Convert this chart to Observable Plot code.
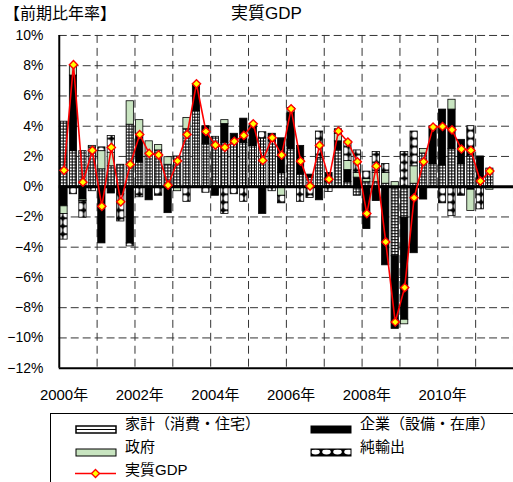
<!DOCTYPE html>
<html><head><meta charset="utf-8">
<script src="https://cdn.jsdelivr.net/npm/d3@7"></script>
<script src="https://cdn.jsdelivr.net/npm/@observablehq/plot@0.6"></script>
<style>
html,body{margin:0;padding:0;background:#fff;overflow:hidden;width:513px;height:482px;}
body{font-family:"Liberation Sans","Noto Sans CJK JP",sans-serif;position:relative;color:#000;}
.title{position:absolute;top:3px;font-size:16px;line-height:22px;font-family:"Liberation Sans","Noto Sans CJK JP",sans-serif;}
#chart{position:absolute;left:0;top:27px;}
#legend{position:absolute;left:50px;top:413px;width:480px;height:90px;border:1px solid #000;box-sizing:border-box;}
.sym{position:absolute;width:42px;height:9px;}
.lbl{position:absolute;font-size:15px;line-height:20px;white-space:nowrap;font-family:"Liberation Sans","Noto Sans CJK JP",sans-serif;}
</style></head><body>
<svg width="0" height="0" style="position:absolute">
<defs>
<pattern id="pHH" width="3" height="3" patternUnits="userSpaceOnUse">
 <rect width="3" height="3" fill="#fff"/>
 <rect width="3" height="1" fill="#000"/>
 <rect width="1" height="3" fill="#000"/>
</pattern>
<pattern id="pNX" width="7" height="8" patternUnits="userSpaceOnUse">
 <rect width="7" height="8" fill="#000"/>
 <ellipse cx="3.5" cy="4" rx="2.9" ry="3.3" fill="#fff"/>
</pattern>
<pattern id="pNXL" width="11" height="8" patternUnits="userSpaceOnUse">
 <rect width="11" height="8" fill="#000"/>
 <ellipse cx="5.5" cy="4" rx="4.3" ry="2.4" fill="#fff"/>
</pattern>
</defs></svg>
<div class="title" style="left:4px">【前期比年率】</div>
<div class="title" style="left:231px;font-size:17px">実質GDP</div>
<div id="chart"></div>
<div id="legend"></div>
<script>
const quarters = ["2000Q1","2000Q2","2000Q3","2000Q4","2001Q1","2001Q2","2001Q3","2001Q4",
"2002Q1","2002Q2","2002Q3","2002Q4","2003Q1","2003Q2","2003Q3","2003Q4",
"2004Q1","2004Q2","2004Q3","2004Q4","2005Q1","2005Q2","2005Q3","2005Q4",
"2006Q1","2006Q2","2006Q3","2006Q4","2007Q1","2007Q2","2007Q3","2007Q4",
"2008Q1","2008Q2","2008Q3","2008Q4","2009Q1","2009Q2","2009Q3","2009Q4",
"2010Q1","2010Q2","2010Q3","2010Q4","2011Q1","2011Q2"];
const household = [4.3,2.35,2.35,2.6,1.15,1.35,1.45,4.1,1.6,2.2,2.4,1.45,2.0,3.8,5.0,2.8,3.3,2.9,3.0,2.9,2.7,3.2,3.0,0.9,2.5,0.8,0.6,1.9,0.3,2.4,0.3,-0.6,0.3,0.3,0.2,-4.6,-2.05,0.2,2.2,1.5,1.4,2.5,1.5,2.0,0.3,1.2];
const corporate = [-1.3,5.0,-0.85,0,-3.75,-0.45,-0.5,-3.75,1.9,-0.9,0,-1.75,0,0,1.75,1.2,-0.6,1.25,0.5,1.6,1.4,-1.8,0.5,2.3,2.4,1.9,0.2,-0.9,0.6,0.6,0.8,0.6,-2.8,-0.95,-5.2,-4.8,-6.75,-4.4,-0.85,2.5,3.7,2.6,1.6,-0.2,1.7,0];
const government = [-0.5,0.65,-0.1,0.1,1.2,0.9,0,1.55,0.9,0.8,0.35,0.5,-0.3,0.75,0.05,0,0,0.25,0,0,0,0,0,-0.6,0.3,0,0,0,0,0.5,0.6,0.3,0.2,0.6,0.7,0.3,-0.3,1.15,0.3,0,0,0.65,0,-1.4,0,-0.2];
const netExports = [-1.7,-0.5,-1.1,-0.3,0.25,1.1,-1.8,-0.2,-0.7,0,-0.6,0,0,-1.0,0,-0.4,0,-1.8,-0.5,-1.0,0,0.4,-0.3,-0.5,0,-1.0,-0.75,1.75,-0.35,0.3,1.3,1.5,0.5,1.4,0.6,0,2.3,2.3,0,0,-1.1,-1.95,-0.6,2.0,-1.5,0];
const gdp = [1.08,8.07,0.3,2.4,-1.3,2.6,-1.0,1.47,3.45,2.2,2.1,0.1,1.7,3.45,6.8,3.65,2.75,2.6,3.0,3.39,4.16,1.74,3.23,2.09,5.15,1.69,0.04,2.73,0.5,3.67,2.95,1.65,-1.78,1.36,-3.65,-8.95,-6.67,-0.73,1.65,3.94,3.98,3.76,2.49,2.4,0.37,1.03];
const seriesNames = ["家計（消費・住宅）","企業（設備・在庫）","政府","純輸出"];
const gdpName = "実質GDP";
const yearLabels = ["2000年","2002年","2004年","2006年","2008年","2010年"];
const yTicks = [10,8,6,4,2,0,-2,-4,-6,-8,-10,-12];
const quartersShown = 48; // axis spans 2000Q1..2011Q4

const seriesFills = ["url(#pHH)","#000","#c8e4c0","url(#pNX)"];
const seriesArrays = [household, corporate, government, netExports];

const rows = quarters.flatMap((q, i) => seriesArrays.map((arr, k) => ({q: i, series: seriesNames[k], value: arr[i]})))
  .filter(d => d.value !== 0);
const gdpRows = quarters.map((q, i) => ({q: i, v: gdp[i]}));
const xTickPos = yearLabels.map(l => quarters.indexOf(l.slice(0, 4) + "Q1") + 0.5);
const yearBounds = d3.range(4, quartersShown + 1, 4);
const fmtY = d => (d < 0 ? "−" : "") + Math.abs(d) + "%";

const chart = Plot.plot({
  width: 515, height: 374,
  marginLeft: 59, marginRight: 0, marginTop: 8, marginBottom: 32,
  style: {fontSize: "14px", fontFamily: "'Liberation Sans','Noto Sans CJK JP',sans-serif", color: "#000", background: "transparent", overflow: "visible"},
  x: {domain: [0, quartersShown], ticks: xTickPos, tickFormat: d => yearLabels[xTickPos.indexOf(d)], tickSize: 0, tickPadding: 21, label: null},
  y: {domain: [-12, 10], ticks: yTicks, tickFormat: fmtY, tickSize: 0, tickPadding: 16, label: null},
  color: {type: "ordinal", domain: seriesNames, range: seriesFills},
  marks: [
    Plot.ruleY(yTicks.filter(v => v !== 0 && v !== -12), {stroke: "#333", strokeWidth: 1, strokeDasharray: "8,4"}),
    Plot.ruleX(yearBounds, {stroke: "#333", strokeWidth: 1, strokeDasharray: "8,5"}),
    Plot.rectY(rows, Plot.stackY({x1: "q", x2: d => d.q + 1, y: "value", fill: "series", stroke: "#000", strokeWidth: 0.8, insetLeft: 1.1, insetRight: 1.1})),
    Plot.ruleY([0], {stroke: "#000", strokeWidth: 3}),
    Plot.ruleX([0], {stroke: "#000", strokeWidth: 2}),
    Plot.ruleY([-12], {stroke: "#000", strokeWidth: 2}),
    Plot.line(gdpRows, {x: d => d.q + 0.5, y: "v", stroke: "#ff0000", strokeWidth: 1.6}),
    Plot.dot(gdpRows, {x: d => d.q + 0.5, y: "v", symbol: "diamond2", r: 3.7, fill: "#ffff00", stroke: "#ff0000", strokeWidth: 1.4})
  ]
});
d3.select(chart).selectAll('[aria-label^="x-axis"] text').style("font-size", "15px");
document.getElementById("chart").appendChild(chart);

// legend
const leg = document.getElementById("legend");
const symbols = [
  '<svg width="42" height="9"><rect x="1" y="1" width="40" height="7" fill="#fff" stroke="#000" stroke-width="1.5"/><line x1="1" x2="41" y1="4.5" y2="4.5" stroke="#000" stroke-width="1"/></svg>',
  '<svg width="42" height="9"><rect x="1" y="1" width="40" height="7" fill="#000" stroke="#000"/></svg>',
  '<svg width="42" height="9"><rect x="1" y="1" width="40" height="7" fill="#c8e4c0" stroke="#000" stroke-width="1"/></svg>',
  '<svg width="42" height="9"><rect x="1" y="1" width="40" height="7" fill="url(#pNXL)" stroke="#000" stroke-width="1"/></svg>'
];
const legPos = [[24, 10], [259, 10], [24, 33], [259, 33]];
seriesNames.forEach((name, k) => {
  const [lx, cy] = legPos[k];
  leg.insertAdjacentHTML("beforeend",
    `<div class="sym" style="left:${lx}px;top:${cy - 4}px">${symbols[k]}</div>` +
    `<div class="lbl" style="left:${lx + 50}px;top:${cy - 10}px">${name}</div>`);
});
leg.insertAdjacentHTML("beforeend",
  `<div class="sym" style="left:24px;top:51px;height:11px"><svg width="42" height="11"><line x1="0" x2="41" y1="5.5" y2="5.5" stroke="#ff0000" stroke-width="1.5"/><path d="M20.5 1.5 L24.5 5.5 L20.5 9.5 L16.5 5.5 Z" fill="#ffff00" stroke="#ff0000" stroke-width="1.3"/></svg></div>` +
  `<div class="lbl" style="left:74px;top:46px">${gdpName}</div>`);
</script>
</body></html>
